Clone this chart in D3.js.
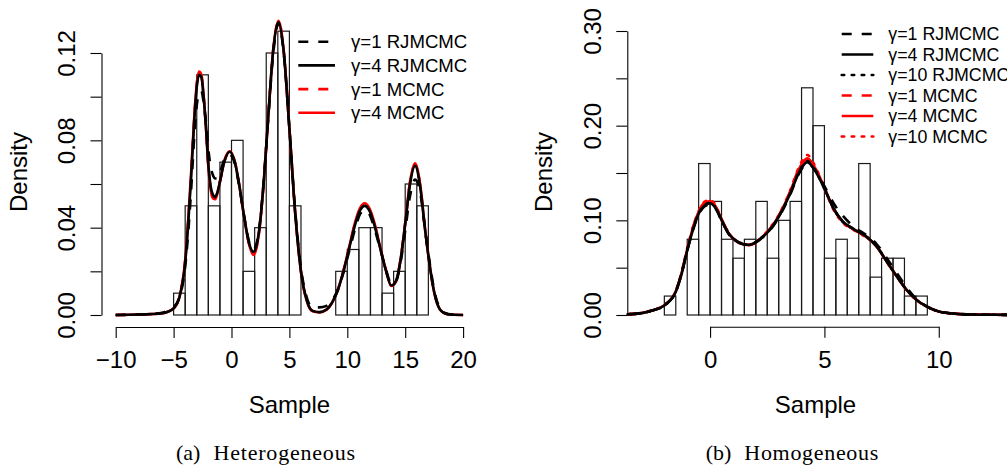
<!DOCTYPE html>
<html>
<head>
<meta charset="utf-8">
<script src="https://cdn.jsdelivr.net/npm/d3@7"></script>
<style>
  body { margin: 0; background: #fff; }
  svg text { font-family: "Liberation Sans", Arial, Helvetica, sans-serif; fill: #000; }
  .caption { font-family: "Liberation Serif", "Times New Roman", serif !important; }
</style>
</head>
<body>
<svg id="fig" width="1007" height="467"></svg>
<script>
// ---- (a) Heterogeneous ----
var hetBinStart = -5, hetBinWidth = 1;
var hetDensity = [0.01, 0.05, 0.11, 0.05, 0.07, 0.08, 0.02, 0.04, 0.12, 0.13, 0.05,
                  0, 0, 0, 0.02, 0.03, 0.04, 0.04, 0.01, 0.02, 0.06, 0.05];
var hetX = [-10, -8, -7, -6, -5.5, -5, -4.5, -4, -3.5, -3.2, -3, -2.8, -2.6, -2.4, -2.2, -2,
            -1.8, -1.6, -1.4, -1.2, -1, -0.6, -0.15, 0.3, 0.7, 1.1, 1.5, 1.9, 2.1, 2.4, 2.8,
            3.2, 3.6, 4.05, 4.5, 5, 5.5, 6, 6.5, 7, 7.6, 8.2, 8.7, 9.2, 9.7, 10.2, 10.7, 11.1,
            11.5, 11.9, 12.3, 12.8, 13.3, 13.8, 14.2, 14.6, 15, 15.4, 15.85, 16.3, 16.7, 17.1,
            17.5, 18, 18.5, 19, 20];
var hetRJ1 = [0, 0.0002, 0.0005, 0.001, 0.002, 0.0035, 0.008, 0.022, 0.056, 0.083, 0.096, 0.1015,
              0.1025, 0.097, 0.088, 0.076, 0.068, 0.064, 0.0625, 0.0625, 0.065, 0.0715, 0.0735,
              0.069, 0.058, 0.045, 0.034, 0.030, 0.0315, 0.040, 0.0625, 0.092, 0.1195, 0.1335,
              0.1205, 0.0855, 0.048, 0.0215, 0.008, 0.0035, 0.0035, 0.0042, 0.0068, 0.0118, 0.020,
              0.030, 0.040, 0.0462, 0.048, 0.0462, 0.0405, 0.031, 0.0215, 0.0145, 0.0155, 0.024,
              0.0385, 0.054, 0.062, 0.056, 0.040, 0.0245, 0.0115, 0.003, 0.0008, 0.0002, 0];
var hetRJ4 = [0, 0.0002, 0.0004, 0.0008, 0.0015, 0.003, 0.008, 0.024, 0.062, 0.0905, 0.1044, 0.110,
              0.109, 0.0994, 0.0857, 0.069, 0.059, 0.055, 0.054, 0.0565, 0.061, 0.0705, 0.0748,
              0.0698, 0.0585, 0.0448, 0.0333, 0.0289, 0.0307, 0.0393, 0.0621, 0.0928, 0.121, 0.1342,
              0.1211, 0.0853, 0.0468, 0.020, 0.0067, 0.0019, 0.0013, 0.0025, 0.0058, 0.0117, 0.0206,
              0.0314, 0.0419, 0.0479, 0.050, 0.0479, 0.042, 0.0315, 0.0211, 0.0135, 0.0155, 0.0252,
              0.0416, 0.0594, 0.0683, 0.0585, 0.0397, 0.0233, 0.0105, 0.0025, 0.0006, 0.0002, 0];
var hetMC1 = [0, 0.0002, 0.0004, 0.0008, 0.0015, 0.003, 0.0082, 0.025, 0.0635, 0.0915, 0.1055, 0.1108,
              0.1095, 0.0998, 0.0852, 0.0683, 0.058, 0.054, 0.054, 0.0565, 0.061, 0.0708, 0.0745,
              0.0698, 0.0584, 0.0446, 0.033, 0.028, 0.030, 0.0388, 0.062, 0.0928, 0.1212, 0.1345,
              0.1212, 0.0855, 0.0468, 0.0199, 0.0066, 0.0018, 0.0012, 0.0024, 0.0058, 0.0118, 0.0208,
              0.0317, 0.0425, 0.0484, 0.0505, 0.0484, 0.0425, 0.0318, 0.0212, 0.0134, 0.0154, 0.0254,
              0.042, 0.0602, 0.069, 0.0592, 0.040, 0.0234, 0.0105, 0.0025, 0.0006, 0.0002, 0];
var hetMC4 = [0, 0.0002, 0.0004, 0.0008, 0.0015, 0.003, 0.0082, 0.025, 0.064, 0.092, 0.106, 0.1115,
              0.110, 0.100, 0.085, 0.068, 0.0575, 0.0535, 0.053, 0.056, 0.061, 0.071, 0.075,
              0.070, 0.0585, 0.0445, 0.0328, 0.0275, 0.0295, 0.0385, 0.062, 0.093, 0.1215, 0.1348,
              0.1215, 0.0855, 0.0468, 0.0198, 0.0065, 0.0018, 0.0012, 0.0024, 0.0058, 0.0118, 0.021,
              0.032, 0.043, 0.049, 0.0512, 0.049, 0.043, 0.032, 0.0212, 0.0133, 0.0153, 0.0255,
              0.0422, 0.0605, 0.0695, 0.0595, 0.0402, 0.0235, 0.0105, 0.0025, 0.0006, 0.0002, 0];
var hetXTicks = [-10, -5, 0, 5, 10, 15, 20];
var hetXTickLabels = ["\u221210", "\u22125", "0", "5", "10", "15", "20"];
var hetYTicks = [0, 0.02, 0.04, 0.06, 0.08, 0.10, 0.12];
var hetYTickLabels = ["0.00", "", "0.04", "", "0.08", "", "0.12"];
var hetLegend = ["\u03b3=1 RJMCMC", "\u03b3=4 RJMCMC", "\u03b3=1 MCMC", "\u03b3=4 MCMC"];

// ---- (b) Homogeneous ----
var homBinStart = -2, homBinWidth = 0.5;
var homDensity = [0.02, 0, 0.08, 0.16, 0.12, 0.08, 0.06, 0.08, 0.12, 0.06, 0.10, 0.12,
                  0.24, 0.20, 0.06, 0.08, 0.06, 0.16, 0.04, 0.06, 0.06, 0.02, 0.02];
var homX = [-3.6, -3, -2.5, -2, -1.5, -1.25, -1, -0.75, -0.5, -0.25, 0, 0.25, 0.5, 0.8, 1.2, 1.7,
            2.2, 2.6, 3, 3.5, 3.9, 4.25, 4.6, 5, 5.4, 5.8, 6.3, 6.8, 7.3, 7.7, 8.2, 8.6, 9, 9.5,
            10, 10.8, 11.5, 12.5, 13.5];
var homRJ1 = [0.0008, 0.002, 0.005, 0.0105, 0.025, 0.0435, 0.068, 0.0895, 0.106, 0.1145, 0.117,
              0.112, 0.100, 0.086, 0.077, 0.074, 0.080, 0.089, 0.103, 0.127, 0.150, 0.160, 0.153,
              0.136, 0.118, 0.105, 0.093, 0.085, 0.0745, 0.061, 0.043, 0.029, 0.0175, 0.0088,
              0.0038, 0.0012, 0.0005, 0.0002, 0.0001];
var homRJ4 = [0.0008, 0.002, 0.005, 0.010, 0.0246, 0.043, 0.068, 0.090, 0.107, 0.1155, 0.118,
              0.1125, 0.1005, 0.0865, 0.0775, 0.0739, 0.0805, 0.0895, 0.1035, 0.128, 0.151, 0.1615,
              0.152, 0.1335, 0.1125, 0.099, 0.0905, 0.0835, 0.072, 0.0575, 0.0395, 0.0264, 0.0165,
              0.0086, 0.0038, 0.0012, 0.0005, 0.0002, 0.0001];
var homRJ10 = [0.0008, 0.002, 0.005, 0.010, 0.0245, 0.0435, 0.0685, 0.0905, 0.1075, 0.116, 0.1185,
               0.113, 0.100, 0.0862, 0.0772, 0.074, 0.0808, 0.090, 0.104, 0.1285, 0.152, 0.1625,
               0.1525, 0.1335, 0.1125, 0.0985, 0.0905, 0.0835, 0.0725, 0.0575, 0.0398, 0.0265,
               0.0165, 0.0086, 0.0038, 0.0012, 0.0005, 0.0002, 0.0001];
var homMC1 = [0.0008, 0.002, 0.005, 0.0102, 0.0252, 0.0445, 0.0695, 0.0925, 0.1095, 0.1185, 0.120,
              0.114, 0.101, 0.0865, 0.0772, 0.0738, 0.0805, 0.0905, 0.105, 0.1305, 0.155, 0.165,
              0.154, 0.134, 0.112, 0.0985, 0.0905, 0.0835, 0.072, 0.0575, 0.040, 0.0266, 0.0165,
              0.0086, 0.0038, 0.0012, 0.0005, 0.0002, 0.0001];
var homMC4 = [0.0008, 0.002, 0.005, 0.0102, 0.025, 0.044, 0.069, 0.092, 0.109, 0.118, 0.1205,
              0.1145, 0.1015, 0.087, 0.0775, 0.0738, 0.0805, 0.0903, 0.1045, 0.130, 0.155, 0.1655,
              0.155, 0.1345, 0.1125, 0.0985, 0.090, 0.083, 0.0718, 0.0572, 0.0395, 0.0263, 0.0164,
              0.0086, 0.0038, 0.0012, 0.0005, 0.0002, 0.0001];
var homMC10 = [0.0008, 0.002, 0.0052, 0.0105, 0.0255, 0.045, 0.0705, 0.093, 0.1095, 0.1195, 0.1215,
               0.1155, 0.1005, 0.0875, 0.0765, 0.0745, 0.081, 0.0915, 0.1055, 0.1315, 0.157, 0.169,
               0.157, 0.1335, 0.111, 0.0975, 0.0895, 0.0825, 0.0725, 0.057, 0.039, 0.0262, 0.0163,
               0.0085, 0.0037, 0.0012, 0.0005, 0.0002, 0.0001];
var homXTicks = [0, 5, 10];
var homXTickLabels = ["0", "5", "10"];
var homYTicks = [0, 0.05, 0.10, 0.15, 0.20, 0.25, 0.30];
var homYTickLabels = ["0.00", "", "0.10", "", "0.20", "", "0.30"];
var homLegend = ["\u03b3=1 RJMCMC", "\u03b3=4 RJMCMC", "\u03b3=10 RJMCMC",
                 "\u03b3=1 MCMC", "\u03b3=4 MCMC", "\u03b3=10 MCMC"];

// line styles (lty 2 = dashed, 1 = solid, 3 = dotted)
var dashes = { dashed: "10,10", solid: null, dotted: "2.5,7.5" };

var svg = d3.select("#fig");

function drawPanel(p) {
    var x = d3.scaleLinear().domain(p.xDomain).range(p.xRange);
    var y = d3.scaleLinear().domain(p.yDomain).range(p.yRange);
    var g = svg.append("g");

    // histogram (freq = FALSE)
    g.append("g").selectAll("rect")
        .data(p.density)
        .enter().append("rect")
        .attr("x", function(d, i) { return x(p.binStart + i * p.binWidth); })
        .attr("width", function(d, i) { return x(p.binStart + (i + 1) * p.binWidth) - x(p.binStart + i * p.binWidth); })
        .attr("y", function(d) { return y(d); })
        .attr("height", function(d) { return y(0) - y(d); })
        .attr("fill", "none")
        .attr("stroke", "#1a1a1a")
        .attr("stroke-width", 1.2);

    // density curves, red drawn first so black sits on top
    var line = d3.line()
        .x(function(d) { return x(d[0]); })
        .y(function(d) { return y(d[1]); })
        .curve(d3.curveMonotoneX);
    var order = p.series.map(function(s, i) { return i; })
        .sort(function(a, b) { return (p.series[a].color === "red" ? 0 : 1) - (p.series[b].color === "red" ? 0 : 1); });
    order.forEach(function(i) {
        var s = p.series[i];
        g.append("path")
            .datum(p.xs.map(function(v, k) { return [v, s.values[k]]; }))
            .attr("d", line)
            .attr("fill", "none")
            .attr("stroke", s.color)
            .attr("stroke-width", 2.6)
            .attr("stroke-linecap", s.dash === "dotted" ? "round" : "butt")
            .attr("stroke-dasharray", dashes[s.dash]);
    });

    // x axis over the labelled range only, like R's axis()
    var xa = d3.scaleLinear()
        .domain([p.xTicks[0], p.xTicks[p.xTicks.length - 1]])
        .range([x(p.xTicks[0]), x(p.xTicks[p.xTicks.length - 1])]);
    var xAxis = g.append("g")
        .attr("transform", "translate(0," + p.xAxisY + ")")
        .call(d3.axisBottom(xa).tickValues(p.xTicks).tickSize(11).tickSizeOuter(0).tickPadding(13)
            .tickFormat(function(d, i) { return p.xTickLabels[i]; }));
    xAxis.selectAll("text").style("font-size", "24px");

    var yAxis = g.append("g")
        .attr("transform", "translate(" + p.yAxisX + ",0)")
        .call(d3.axisLeft(y).tickValues(p.yTicks).tickSize(11).tickSizeOuter(0)
            .tickFormat(function(d, i) { return p.yTickLabels[i]; }));
    yAxis.selectAll("text")
        .attr("x", null).attr("dy", null)
        .attr("text-anchor", "middle")
        .attr("transform", "translate(-26.5,0) rotate(-90)")
        .style("font-size", "24px");
    [xAxis, yAxis].forEach(function(a) {
        a.select(".domain").attr("stroke", "#000").attr("stroke-width", 1.1);
        a.selectAll(".tick line").attr("stroke", "#000").attr("stroke-width", 1.1);
        a.attr("font-family", null).attr("font-size", null);
    });

    // axis titles
    g.append("text")
        .attr("x", (p.xRange[0] + p.xRange[1]) / 2).attr("y", 413)
        .attr("text-anchor", "middle").style("font-size", "24px")
        .text("Sample");
    g.append("text")
        .attr("transform", "translate(" + (p.yAxisX - 75) + ",172) rotate(-90)")
        .attr("text-anchor", "middle").style("font-size", "24px")
        .text("Density");

    // legend
    var lg = g.append("g");
    p.series.forEach(function(s, i) {
        var ly = p.legend.y0 + i * p.legend.dy;
        lg.append("line")
            .attr("x1", p.legend.x0).attr("x2", p.legend.x0 + p.legend.len)
            .attr("y1", ly).attr("y2", ly)
            .attr("stroke", s.color).attr("stroke-width", 2.6)
            .attr("stroke-linecap", s.dash === "dotted" ? "round" : "butt")
            .attr("stroke-dasharray", dashes[s.dash]);
        lg.append("text")
            .attr("x", p.legend.tx).attr("y", ly + p.legend.fs * 0.36)
            .style("font-size", p.legend.fs + "px")
            .text(s.label);
    });

    // sub-figure caption
    var cap = g.append("text").attr("class", "caption").attr("y", 460).style("font-size", "22px");
    cap.append("tspan").attr("x", p.caption.x0).text(p.caption.tag);
    cap.append("tspan").attr("x", p.caption.x1)
        .attr("textLength", p.caption.len).attr("lengthAdjust", "spacing")
        .text(p.caption.word);
}

drawPanel({
    xDomain: [-11.2, 21.2], xRange: [101.8, 477],
    yDomain: [0, 0.12], yRange: [315, 53],
    xAxisY: 327, yAxisX: 101.5,
    binStart: hetBinStart, binWidth: hetBinWidth, density: hetDensity,
    xs: hetX,
    series: [
        { label: hetLegend[0], values: hetRJ1, color: "#000", dash: "dashed" },
        { label: hetLegend[1], values: hetRJ4, color: "#000", dash: "solid" },
        { label: hetLegend[2], values: hetMC1, color: "red", dash: "dashed" },
        { label: hetLegend[3], values: hetMC4, color: "red", dash: "solid" }
    ],
    xTicks: hetXTicks, xTickLabels: hetXTickLabels,
    yTicks: hetYTicks, yTickLabels: hetYTickLabels,
    legend: { x0: 298.3, len: 36.7, tx: 351, y0: 41.7, dy: 23.7, fs: 18.6 },
    caption: { x0: 176, tag: "(a)", x1: 213.5, word: "Heterogeneous", len: 141.5 }
});

drawPanel({
    xDomain: [-3.62, 12.84], xRange: [627.3, 1003.7],
    yDomain: [0, 0.30], yRange: [315, 31],
    xAxisY: 326.7, yAxisX: 627.3,
    binStart: homBinStart, binWidth: homBinWidth, density: homDensity,
    xs: homX,
    series: [
        { label: homLegend[0], values: homRJ1, color: "#000", dash: "dashed" },
        { label: homLegend[1], values: homRJ4, color: "#000", dash: "solid" },
        { label: homLegend[2], values: homRJ10, color: "#000", dash: "dotted" },
        { label: homLegend[3], values: homMC1, color: "red", dash: "dashed" },
        { label: homLegend[4], values: homMC4, color: "red", dash: "solid" },
        { label: homLegend[5], values: homMC10, color: "red", dash: "dotted" }
    ],
    xTicks: homXTicks, xTickLabels: homXTickLabels,
    yTicks: homYTicks, yTickLabels: homYTickLabels,
    legend: { x0: 841.7, len: 31.6, tx: 888.3, y0: 34, dy: 20.5, fs: 17.8 },
    caption: { x0: 705.7, tag: "(b)", x1: 744.3, word: "Homogeneous", len: 134 }
});
</script>
</body>
</html>
